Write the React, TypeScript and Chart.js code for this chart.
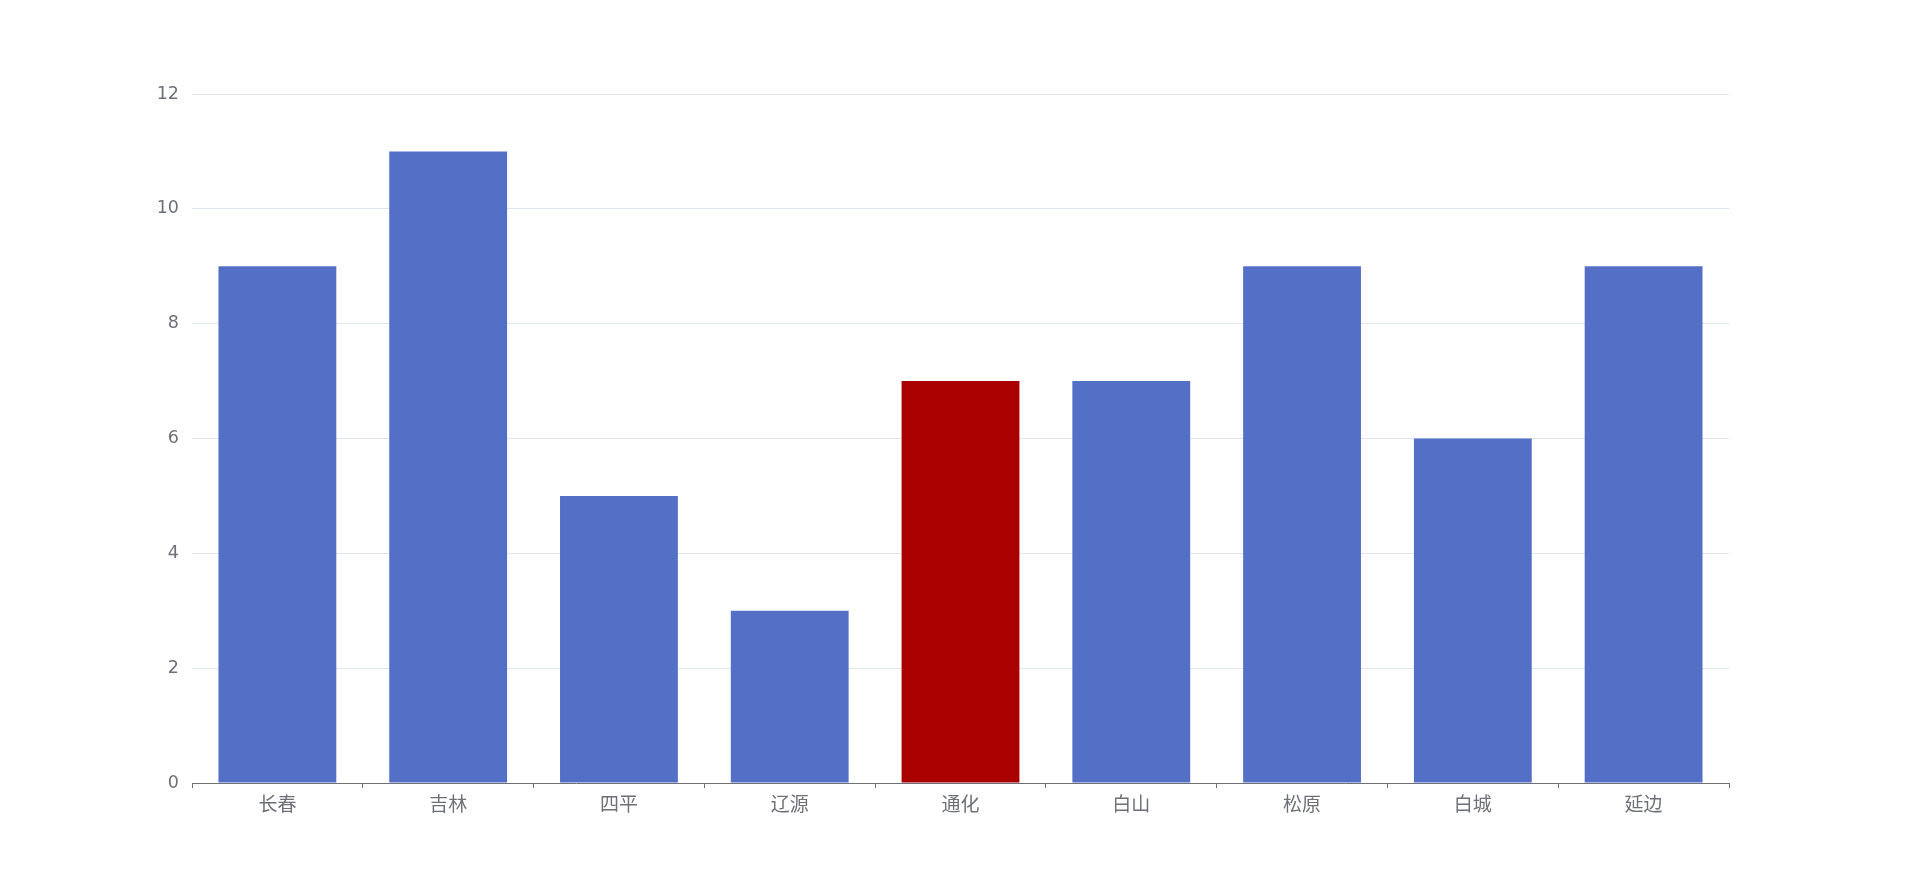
import React, { useEffect, useRef } from "react";
import { Chart, registerables } from "chart.js";

Chart.register(...registerables);

const categories = ["长春", "吉林", "四平", "辽源", "通化", "白山", "松原", "白城", "延边"];
const values = [9, 11, 5, 3, 7, 7, 9, 6, 9];
const highlightIndex = 4;
const yMin = 0;
const yMax = 12;
const yStep = 2;

const BLUE = "#5470c6";
const RED = "#aa0000";
const AXIS = "#6e7079";
const GRID = "#e0e6f1";
const CJK_FONT = "'Noto Sans CJK SC', 'Noto Sans', sans-serif";
const NUM_FONT = "'DejaVu Sans', 'Noto Sans', sans-serif";

export default function App() {
  const ref = useRef<HTMLCanvasElement | null>(null);

  useEffect(() => {
    if (!ref.current) return;
    const chart = new Chart(ref.current, {
      type: "bar",
      data: {
        labels: categories,
        datasets: [
          {
            data: values,
            backgroundColor: values.map((_, i) => (i === highlightIndex ? RED : BLUE)),
            borderWidth: 0,
            categoryPercentage: 1,
            barPercentage: 0.69,
          },
        ],
      },
      options: {
        animation: false,
        responsive: true,
        maintainAspectRatio: false,
        layout: { padding: { left: 0, right: 191, top: 94, bottom: 0 } },
        plugins: { legend: { display: false }, tooltip: { enabled: false } },
        scales: {
          x: {
            grid: {
              offset: true,
              drawOnChartArea: false,
              drawTicks: true,
              tickLength: 5,
              color: AXIS,
            },
            border: { display: true, color: AXIS, width: 1 },
            ticks: {
              color: AXIS,
              padding: 4,
              font: { family: CJK_FONT, size: 19 },
              maxRotation: 0,
              autoSkip: false,
            },
            afterFit: (s: any) => {
              s.height = 109;
            },
          },
          y: {
            min: yMin,
            max: yMax,
            grid: { color: GRID, drawTicks: false },
            border: { display: false },
            ticks: {
              stepSize: yStep,
              color: AXIS,
              padding: 13,
              font: { family: NUM_FONT, size: 17.5 },
            },
            afterFit: (s: any) => {
              s.width = 192;
            },
          },
        },
      },
    });
    return () => chart.destroy();
  }, []);

  return (
    <div style={{ position: "fixed", left: 0, top: 0, width: 1920, height: 892 }}>
      <canvas ref={ref} />
    </div>
  );
}
